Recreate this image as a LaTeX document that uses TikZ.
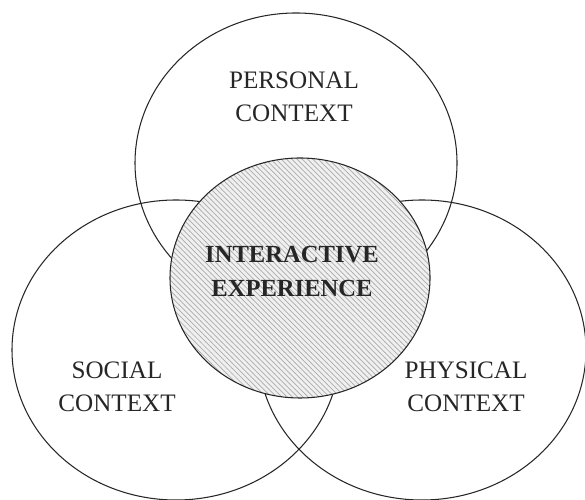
\documentclass[tikz,border=0pt]{standalone}
\usepackage{fontspec}
\setmainfont{Liberation Serif}
\usetikzlibrary{patterns}

\begin{document}
\begin{tikzpicture}[line join=round, line cap=round,
  ring/.style={draw=black!85, line width=0.6pt},
  ctxtext/.style={align=center, text=black!85, font=\fontsize{14.3}{18.8}\selectfont}]
\useasboundingbox (0,0) rectangle (11.7,10);

% Tâm các vùng
\coordinate (personal) at (5.92,6.74);
\coordinate (social) at (3.52,3);
\coordinate (physical) at (8.44,3);
\coordinate (core) at (6,4.44);

% Ba vùng bối cảnh
\draw[ring] (personal) ellipse [x radius=3.22, y radius=3];
\draw[ring] (social) ellipse [x radius=3.28, y radius=3];
\draw[ring] (physical) ellipse [x radius=3.28, y radius=3];

% Vùng trải nghiệm ở giữa (gạch chéo)
\fill[gray!12] (core) ellipse [x radius=2.6, y radius=2.4];
\fill[pattern=north west lines, pattern color=gray!65] (core) ellipse [x radius=2.6, y radius=2.4];
\draw[ring] (core) ellipse [x radius=2.6, y radius=2.4];

% Nhãn
\node[ctxtext] (personalText) at (5.88,8.07) {PERSONAL\\CONTEXT};
\node[ctxtext, font=\fontsize{14}{18.8}\selectfont\bfseries] (coreText) at (5.84,4.57) {INTERACTIVE\\EXPERIENCE};
\node[ctxtext] (socialText) at (2.34,2.27) {SOCIAL\\CONTEXT};
\node[ctxtext] (physicalText) at (9.32,2.27) {PHYSICAL\\CONTEXT};
\end{tikzpicture}
\end{document}
